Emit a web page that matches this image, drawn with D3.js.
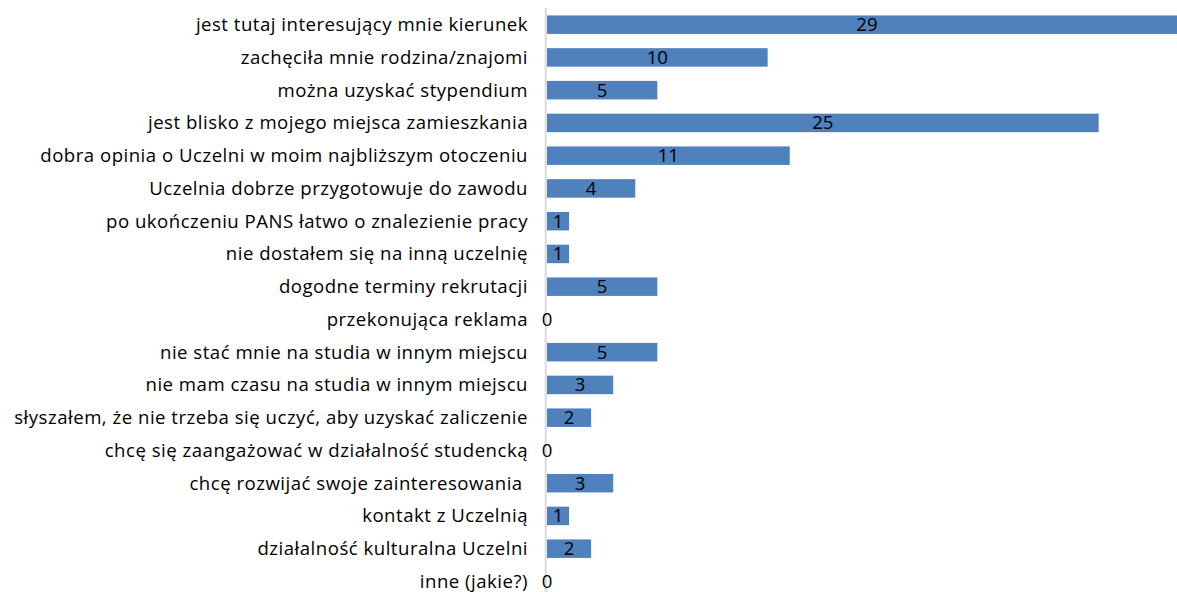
<!DOCTYPE html>
<html>
<head>
<meta charset="utf-8">
<script src="https://cdn.jsdelivr.net/npm/d3@7"></script>
<style>
  body { margin: 0; background: #fff; }
  text { font-family: "Open Sans", Lato, sans-serif; white-space: pre; }
</style>
</head>
<body>
<div id="chart"></div>
<script>
const categories = [
    'jest tutaj interesujący mnie kierunek',
    'zachęciła mnie rodzina/znajomi',
    'można uzyskać stypendium',
    'jest blisko z mojego miejsca zamieszkania',
    'dobra opinia o Uczelni w moim najbliższym otoczeniu',
    'Uczelnia dobrze przygotowuje do zawodu',
    'po ukończeniu PANS łatwo o znalezienie pracy',
    'nie dostałem się na inną uczelnię',
    'dogodne terminy rekrutacji',
    'przekonująca reklama',
    'nie stać mnie na studia w innym miejscu',
    'nie mam czasu na studia w innym miejscu',
    'słyszałem, że nie trzeba się uczyć, aby uzyskać zaliczenie',
    'chcę się zaangażować w działalność studencką',
    'chcę rozwijać swoje zainteresowania ',
    'kontakt z Uczelnią',
    'działalność kulturalna Uczelni',
    'inne (jakie?)'
];
const counts = [29, 10, 5, 25, 11, 4, 1, 1, 5, 0, 5, 3, 2, 0, 3, 1, 2, 0];
const xMax = 30;

const data = categories.map((c, i) => ({ label: c, value: counts[i] }));

const width = 1177;
const height = 592;

const svg = d3.select('#chart')
    .append('svg')
    .attr('width', width)
    .attr('height', height);

const x = d3.scaleLinear()
    .domain([0, xMax])
    .range([547, 1209]);

const y = d3.scaleBand()
    .domain(categories)
    .range([8.3, 597.8])
    .paddingInner(0.435)
    .paddingOuter(0.2175);

// bars
svg.selectAll('.bar')
    .data(data)
    .enter()
    .append('rect')
    .attr('class', 'bar')
    .attr('x', x(0))
    .attr('y', d => y(d.label))
    .attr('width', d => x(d.value) - x(0))
    .attr('height', y.bandwidth())
    .attr('fill', '#4f81bd');

// vertical axis line
svg.append('line')
    .attr('x1', 545.7)
    .attr('x2', 545.7)
    .attr('y1', 8)
    .attr('y2', height)
    .attr('stroke', '#d9d9d9')
    .attr('stroke-width', 2);

// category labels
svg.selectAll('.cat')
    .data(data)
    .enter()
    .append('text')
    .attr('class', 'cat')
    .attr('x', 528)
    .attr('y', d => y(d.label) + y.bandwidth() / 2)
    .attr('dy', '.35em')
    .attr('text-anchor', 'end')
    .style('font-size', '18.6px')
    .style('letter-spacing', '0.5px')
    .style('fill', '#000')
    .text(d => d.label);

// value labels
svg.selectAll('.val')
    .data(data)
    .enter()
    .append('text')
    .attr('class', 'val')
    .attr('x', d => (x(0) + x(d.value)) / 2)
    .attr('y', d => y(d.label) + y.bandwidth() / 2)
    .attr('dy', '.35em')
    .attr('text-anchor', 'middle')
    .style('font-size', '18.6px')
    .style('fill', '#000')
    .text(d => d.value);
</script>
</body>
</html>
